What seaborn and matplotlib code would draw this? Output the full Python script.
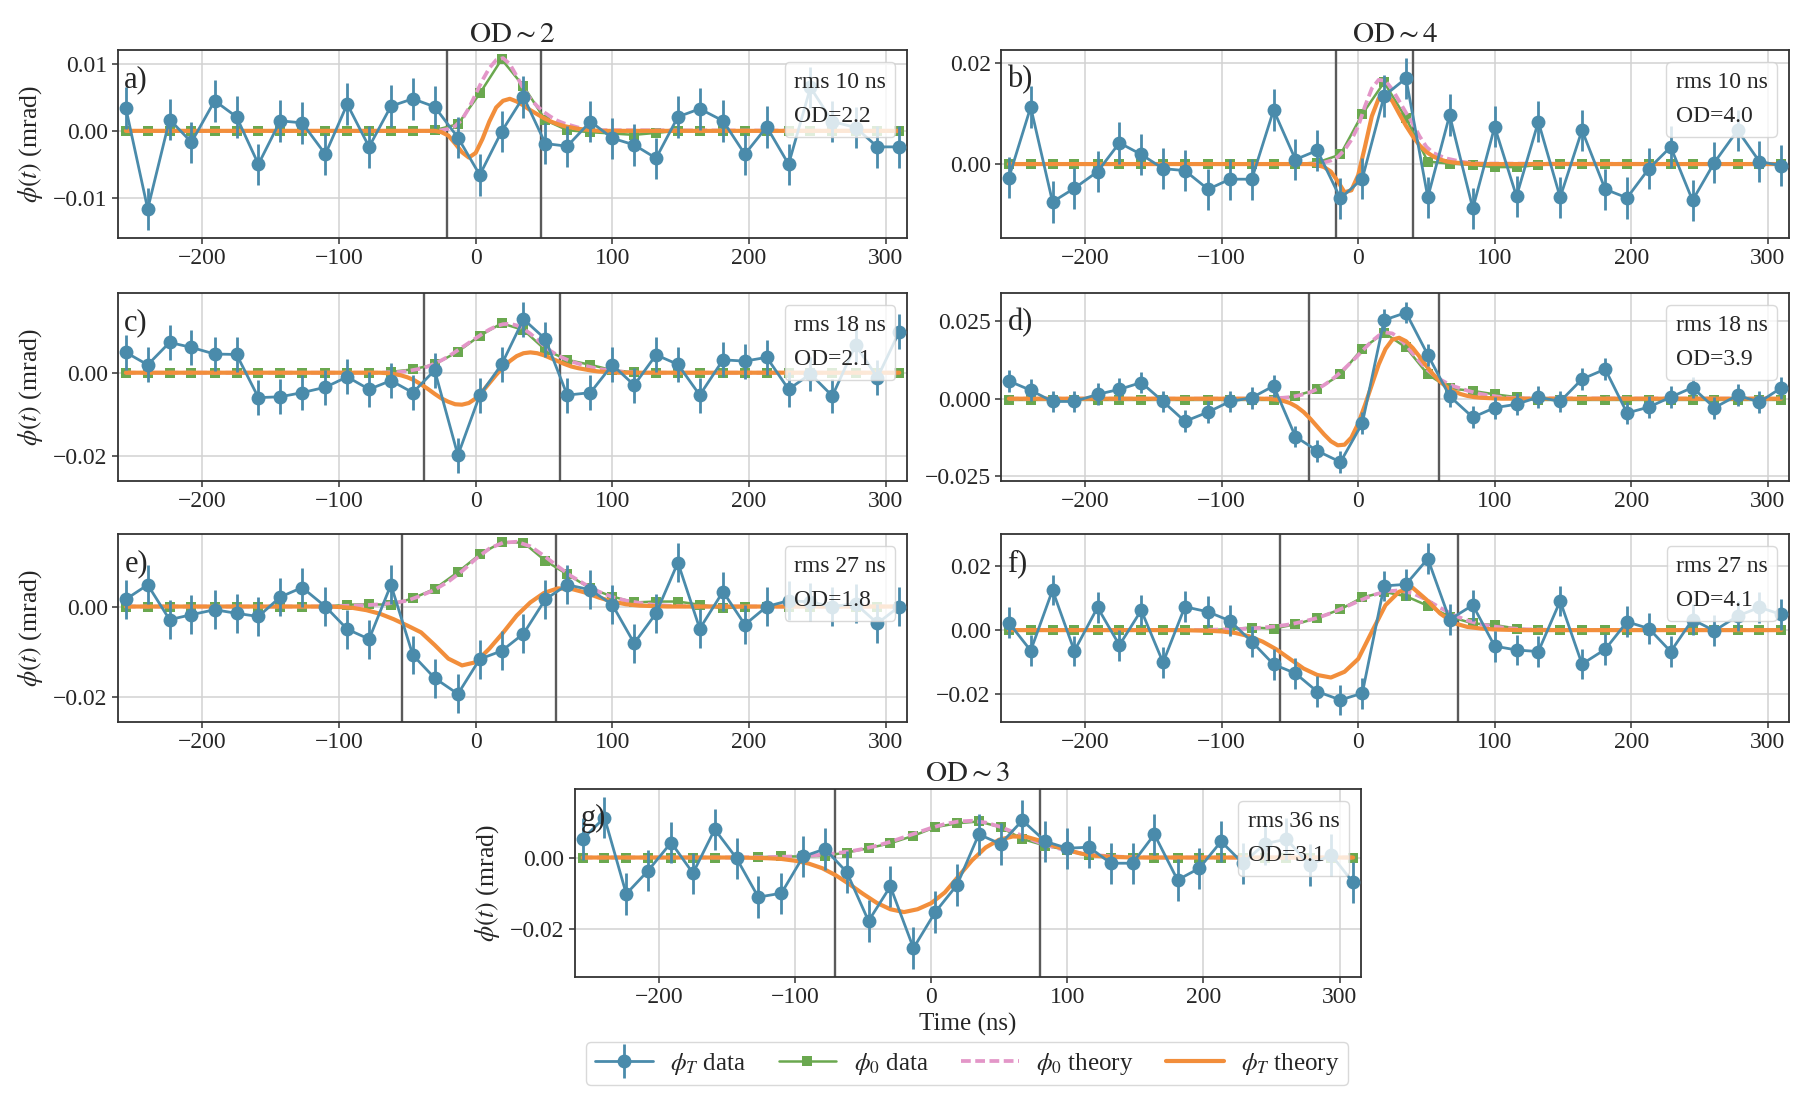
import matplotlib
matplotlib.use("Agg")
import matplotlib.pyplot as plt
from matplotlib.lines import Line2D
from matplotlib.legend_handler import HandlerTuple
from matplotlib.ticker import FuncFormatter
import seaborn as sns

sns.set_theme(style="ticks")
plt.rcParams["font.family"] = ["Liberation Serif", "DejaVu Serif"]
plt.rcParams["mathtext.fontset"] = "stix"
plt.rcParams["lines.dashed_pattern"] = [2.6, 1.2]

BLUE = "#4a8bab"
GREEN = "#6aa84f"
PINK = "#e396c8"
ORANGE = "#f28e3b"

# time grid of the measured points (ns)
t_ns = [-256, -240, -224, -208, -191, -175, -159, -143, -127, -110, -94, -78,
        -62, -46, -30, -13, 3, 19, 35, 51, 67, 84, 100, 116,
        132, 148, 164, 181, 197, 213, 229, 245, 261, 278, 294, 310]

# ---- a) OD~2, rms 10 ns
phiT_a = [0.0034, -0.0117, 0.0017, -0.0017, 0.0045, 0.0021, -0.0050, 0.0015, 0.0012, -0.0035, 0.0040, -0.0024,
          0.0037, 0.0048, 0.0036, -0.0010, -0.0066, -0.0001, 0.0051, -0.0019, -0.0023, 0.0014, -0.0011, -0.0021,
          -0.0041, 0.0021, 0.0033, 0.0015, -0.0035, 0.0006, -0.0050, 0.0065, 0.0014, 0.0005, -0.0024, -0.0024]
phi0_a = [0, 0, 0, 0, 0, 0, 0, 0, 0, 0, 0, 0,
          0, 0, 0.0001, 0.0010, 0.0056, 0.0107, 0.0067, 0.0016, 0.0001, -0.0002, -0.0004, -0.0006,
          -0.0003, 0, 0, 0, 0, 0, 0, 0, 0, 0, 0, 0]
err_a = 0.0031
win_a = [-21, 48]

# ---- b) OD~4, rms 10 ns
phiT_b = [-0.0027, 0.0113, -0.0075, -0.0048, -0.0015, 0.0042, 0.0019, -0.0009, -0.0013, -0.0050, -0.0030, -0.0030,
          0.0107, 0.0009, 0.0027, -0.0068, -0.0029, 0.0135, 0.0170, -0.0066, 0.0097, -0.0088, 0.0074, -0.0064,
          0.0084, -0.0066, 0.0067, -0.0050, -0.0067, -0.0009, 0.0034, -0.0072, 0.0003, 0.0067, 0.0005, -0.0003]
phi0_b = [0, 0, 0, 0, 0, 0, 0, 0, 0, 0, 0, 0,
          0, 0, 0.0003, 0.0019, 0.0099, 0.0162, 0.0091, 0.0005, 0.0001, -0.0002, -0.0006, -0.0006,
          -0.0002, 0, 0, 0, 0, 0, 0, 0, 0, 0, 0, 0]
err_b = 0.0041
win_b = [-16, 40]

# ---- c) OD~2, rms 18 ns
phiT_c = [0.0049, 0.0019, 0.0073, 0.0061, 0.0045, 0.0044, -0.0060, -0.0058, -0.0048, -0.0035, -0.0010, -0.0040,
          -0.0019, -0.0048, 0.0006, -0.0199, -0.0054, 0.0020, 0.0129, 0.0081, -0.0054, -0.0048, 0.0019, -0.0030,
          0.0043, 0.0020, -0.0054, 0.0031, 0.0028, 0.0037, -0.0040, -0.0003, -0.0056, 0.0067, -0.0012, 0.0099]
phi0_c = [0, 0, 0, 0, 0, 0, 0, 0, 0, 0, 0, 0,
          0.0002, 0.0008, 0.0020, 0.0051, 0.0089, 0.0119, 0.0103, 0.0055, 0.0031, 0.0019, 0.0006, 0.0001,
          0, 0, 0, 0, 0, 0, 0, 0, 0, 0, 0, 0]
err_c = 0.0042
win_c = [-38, 62]

# ---- d) OD~4, rms 18 ns
phiT_d = [0.0057, 0.0027, -0.0009, -0.0009, 0.0014, 0.0030, 0.0052, -0.0009, -0.0073, -0.0043, -0.0009, 0.0003,
          0.0041, -0.0122, -0.0168, -0.0204, -0.0079, 0.0253, 0.0277, 0.0141, 0.0008, -0.0060, -0.0029, -0.0018,
          0.0005, -0.0009, 0.0063, 0.0095, -0.0046, -0.0027, 0.0005, 0.0036, -0.0029, 0.0011, -0.0011, 0.0035]
phi0_d = [-0.0004, -0.0004, -0.0004, -0.0004, -0.0004, -0.0004, -0.0004, -0.0004, -0.0004, -0.0004, -0.0004, -0.0004,
          -0.0004, 0.0009, 0.0030, 0.0078, 0.0161, 0.0212, 0.0165, 0.0078, 0.0033, 0.0025, 0.0014, 0.0005,
          -0.0004, -0.0004, -0.0004, -0.0004, -0.0004, -0.0004, -0.0004, -0.0004, -0.0004, -0.0004, -0.0004, -0.0004]
err_d = 0.0035
win_d = [-36, 59]

# ---- e) OD~2, rms 27 ns
phiT_e = [0.0016, 0.0048, -0.0029, -0.0018, -0.0007, -0.0015, -0.0022, 0.0021, 0.0042, 0.0000, -0.0050, -0.0072,
          0.0048, -0.0107, -0.0158, -0.0193, -0.0116, -0.0098, -0.0060, 0.0016, 0.0048, 0.0037, 0.0004, -0.0081,
          -0.0015, 0.0097, -0.0049, 0.0033, -0.0040, 0.0000, 0.0013, 0.0010, 0.0000, 0.0006, -0.0037, 0.0000]
phi0_e = [0, 0, 0, 0, 0, 0, 0, 0, 0, 0, 0.0004, 0.0005,
          0.0004, 0.0018, 0.0039, 0.0076, 0.0115, 0.0142, 0.0141, 0.0101, 0.0071, 0.0040, 0.0022, 0.0009,
          0.0011, 0.0011, 0.0004, -0.0004, 0, 0, 0, 0, 0, 0, 0, 0]
err_e = 0.0043
win_e = [-54, 59]

# ---- f) OD~4, rms 27 ns
phiT_f = [0.0023, -0.0064, 0.0125, -0.0065, 0.0071, -0.0047, 0.0062, -0.0101, 0.0073, 0.0057, 0.0029, -0.0036,
          -0.0107, -0.0135, -0.0192, -0.0218, -0.0197, 0.0138, 0.0143, 0.0223, 0.0033, 0.0078, -0.0050, -0.0062,
          -0.0067, 0.0091, -0.0106, -0.0060, 0.0026, 0.0005, -0.0067, 0.0033, -0.0002, 0.0044, 0.0071, 0.0049]
phi0_f = [0, 0, 0, 0, 0, 0, 0, 0, 0, 0, 0.0003, 0.0008,
          0.0005, 0.0018, 0.0038, 0.0065, 0.0102, 0.0119, 0.0106, 0.0076, 0.0042, 0.0021, 0.0016, 0.0005,
          0, 0, 0, 0, 0, 0, 0, 0, 0, 0, 0, 0]
err_f = 0.0048
win_f = [-57, 73]

# ---- g) OD~3, rms 36 ns
phiT_g = [0.0052, 0.0112, -0.0102, -0.0037, 0.0042, -0.0044, 0.0079, -0.0002, -0.0111, -0.0100, 0.0003, 0.0024,
          -0.0041, -0.0178, -0.0081, -0.0254, -0.0153, -0.0077, 0.0065, 0.0038, 0.0104, 0.0045, 0.0026, 0.0029,
          -0.0016, -0.0016, 0.0065, -0.0063, -0.0030, 0.0045, -0.0016, 0.0038, 0.0052, -0.0021, 0.0007, -0.0070]
phi0_g = [0, 0, 0, 0, 0, 0, 0, 0, 0.0001, 0.0003, 0.0003, 0.0005,
          0.0014, 0.0026, 0.0040, 0.0061, 0.0085, 0.0096, 0.0101, 0.0085, 0.0052, 0.0033, 0.0021, 0.0007,
          0, 0, 0, 0, 0, 0, 0, 0, 0, 0, 0, 0]
err_g = 0.0058
win_g = [-71, 80]

# theory curves, sampled on finer grids (zero outside)
th_t_narrow = list(range(-35, 95, 5))
th_t_mid = list(range(-70, 125, 5))
th_t_wide = list(range(-140, 190, 10))

th0_a = [0, 0.0000, 0.0001, 0.0003, 0.0007, 0.0017, 0.0034, 0.0055, 0.0076, 0.0094, 0.0106, 0.0109, 0.0100,
         0.0082, 0.0063, 0.0048, 0.0037, 0.0028, 0.0021, 0.0015, 0.0011, 0.0008, 0.0005, 0.0003, 0.0002, 0.0001]
thT_a = [0, 0, -0.0002, -0.0007, -0.0019, -0.0032, -0.0040, -0.0033, -0.0012, 0.0014, 0.0035, 0.0045, 0.0048,
         0.0044, 0.0038, 0.0031, 0.0025, 0.0019, 0.0014, 0.0010, 0.0007, 0.0005, 0.0003, 0.0002, 0.0001, 0]
th0_b = [0, 0.0001, 0.0003, 0.0007, 0.0014, 0.0028, 0.0048, 0.0075, 0.0115, 0.0150, 0.0167, 0.0165, 0.0148,
         0.0125, 0.0102, 0.0080, 0.0055, 0.0034, 0.0022, 0.0016, 0.0011, 0.0008, 0.0005, 0.0003, 0.0002, 0.0001]
thT_b = [0, -0.0002, -0.0006, -0.0015, -0.0034, -0.0056, -0.0052, -0.0022, 0.0035, 0.0095, 0.0130, 0.0138, 0.0125,
         0.0100, 0.0076, 0.0055, 0.0037, 0.0024, 0.0015, 0.0009, 0.0005, 0.0003, 0.0002, 0.0001, 0, 0]
th0_c = [0, 0.0001, 0.0001, 0.0002, 0.0004, 0.0007, 0.0010, 0.0015, 0.0022, 0.0030, 0.0039, 0.0050, 0.0061,
         0.0072, 0.0083, 0.0094, 0.0104, 0.0112, 0.0117, 0.0118, 0.0114, 0.0106, 0.0094, 0.0080, 0.0065, 0.0052,
         0.0042, 0.0034, 0.0027, 0.0022, 0.0017, 0.0013, 0.0009, 0.0007, 0.0005, 0.0003, 0.0002, 0.0001, 0]
thT_c = [0, -0.0001, -0.0003, -0.0006, -0.0011, -0.0018, -0.0028, -0.0039, -0.0051, -0.0062, -0.0070, -0.0076,
         -0.0077, -0.0073, -0.0062, -0.0045, -0.0025, -0.0005, 0.0013, 0.0028, 0.0040, 0.0047, 0.0049, 0.0047,
         0.0042, 0.0035, 0.0028, 0.0021, 0.0015, 0.0011, 0.0008, 0.0005, 0.0003, 0.0002, 0.0001, 0, 0, 0, 0]
th0_d = [0, 0.0001, 0.0002, 0.0003, 0.0005, 0.0009, 0.0014, 0.0021, 0.0031, 0.0044, 0.0059, 0.0077, 0.0097,
         0.0118, 0.0140, 0.0163, 0.0185, 0.0203, 0.0213, 0.0210, 0.0195, 0.0172, 0.0145, 0.0120, 0.0095, 0.0077,
         0.0062, 0.0050, 0.0040, 0.0033, 0.0026, 0.0020, 0.0015, 0.0011, 0.0008, 0.0005, 0.0003, 0.0002, 0.0001]
thT_d = [0, -0.0001, -0.0003, -0.0007, -0.0014, -0.0026, -0.0043, -0.0065, -0.0090, -0.0115, -0.0137, -0.0150,
         -0.0148, -0.0125, -0.0080, -0.0020, 0.0045, 0.0110, 0.0160, 0.0190, 0.0196, 0.0185, 0.0163, 0.0135,
         0.0105, 0.0078, 0.0055, 0.0037, 0.0024, 0.0015, 0.0009, 0.0005, 0.0003, 0.0002, 0.0001, 0, 0, 0, 0]
th0_e = [0, 0, 0, 0, 0.0001, 0.0002, 0.0003, 0.0005, 0.0008, 0.0013, 0.0024, 0.0037, 0.0055, 0.0078, 0.0105,
         0.0128, 0.0141, 0.0143, 0.0133, 0.0112, 0.0089, 0.0067, 0.0049, 0.0033, 0.0021, 0.0013, 0.0008, 0.0004,
         0.0002, 0.0001, 0, 0, 0]
thT_e = [0, 0, 0, 0, -0.0001, -0.0003, -0.0008, -0.0016, -0.0028, -0.0042, -0.0057, -0.0085, -0.0115, -0.0130,
         -0.0123, -0.0093, -0.0058, -0.0020, 0.0009, 0.0030, 0.0040, 0.0039, 0.0031, 0.0020, 0.0011, 0.0005,
         0.0002, 0.0001, 0, 0, 0, 0, 0]
th0_f = [0, 0, 0, 0.0001, 0.0002, 0.0003, 0.0005, 0.0008, 0.0012, 0.0018, 0.0027, 0.0038, 0.0053, 0.0071, 0.0090,
         0.0108, 0.0121, 0.0124, 0.0115, 0.0095, 0.0070, 0.0047, 0.0030, 0.0018, 0.0011, 0.0006, 0.0003, 0.0002,
         0.0001, 0, 0, 0, 0]
thT_f = [0, 0, -0.0001, -0.0002, -0.0004, -0.0009, -0.0019, -0.0036, -0.0060, -0.0090, -0.0120, -0.0140, -0.0148,
         -0.0130, -0.0090, -0.0005, 0.0078, 0.0120, 0.0132, 0.0095, 0.0052, 0.0022, 0.0010, 0.0005, 0.0002, 0.0001,
         0, 0, 0, 0, 0, 0, 0]
th0_g = [0, 0.0001, 0.0001, 0.0002, 0.0003, 0.0005, 0.0008, 0.0012, 0.0017, 0.0024, 0.0033, 0.0044, 0.0057,
         0.0070, 0.0083, 0.0094, 0.0101, 0.0103, 0.0098, 0.0087, 0.0072, 0.0056, 0.0041, 0.0029, 0.0019, 0.0012,
         0.0007, 0.0004, 0.0002, 0.0001, 0, 0, 0]
thT_g = [0, -0.0001, -0.0002, -0.0004, -0.0009, -0.0017, -0.0030, -0.0050, -0.0075, -0.0102, -0.0127, -0.0145,
         -0.0153, -0.0145, -0.0128, -0.0098, -0.0053, -0.0008, 0.0028, 0.0050, 0.0059, 0.0058, 0.0047, 0.0033,
         0.0021, 0.0011, 0.0005, 0.0002, 0.0001, 0, 0, 0, 0]

panels = [
    dict(tag="a)", rms=10, od="2.2", T=phiT_a, P=phi0_a, err=err_a, win=win_a, tt=th_t_narrow, t0=th0_a, tT=thT_a,
         ylim=(-0.016, 0.0121), yt=[-0.01, 0.0, 0.01], fmt="%.2f", title=r"$\mathrm{OD}\sim2$", ylab=True,
         rect=[0.0653, 0.7839, 0.4364, 0.1706]),
    dict(tag="b)", rms=10, od="4.0", T=phiT_b, P=phi0_b, err=err_b, win=win_b, tt=th_t_narrow, t0=th0_b, tT=thT_b,
         ylim=(-0.0146, 0.0226), yt=[0.0, 0.02], fmt="%.2f", title=r"$\mathrm{OD}\sim4$", ylab=False,
         rect=[0.5537, 0.7839, 0.4358, 0.1706]),
    dict(tag="c)", rms=18, od="2.1", T=phiT_c, P=phi0_c, err=err_c, win=win_c, tt=th_t_mid, t0=th0_c, tT=thT_c,
         ylim=(-0.0261, 0.0192), yt=[-0.02, 0.0], fmt="%.2f", title=None, ylab=True,
         rect=[0.0653, 0.5627, 0.4364, 0.1709]),
    dict(tag="d)", rms=18, od="3.9", T=phiT_d, P=phi0_d, err=err_d, win=win_d, tt=th_t_mid, t0=th0_d, tT=thT_d,
         ylim=(-0.0265, 0.034), yt=[-0.025, 0.0, 0.025], fmt="%.3f", title=None, ylab=False,
         rect=[0.5537, 0.5627, 0.4358, 0.1709]),
    dict(tag="e)", rms=27, od="1.8", T=phiT_e, P=phi0_e, err=err_e, win=win_e, tt=th_t_wide, t0=th0_e, tT=thT_e,
         ylim=(-0.0255, 0.016), yt=[-0.02, 0.0], fmt="%.2f", title=None, ylab=True,
         rect=[0.0653, 0.3436, 0.4364, 0.1709]),
    dict(tag="f)", rms=27, od="4.1", T=phiT_f, P=phi0_f, err=err_f, win=win_f, tt=th_t_wide, t0=th0_f, tT=thT_f,
         ylim=(-0.0287, 0.030), yt=[-0.02, 0.0, 0.02], fmt="%.2f", title=None, ylab=False,
         rect=[0.5537, 0.3436, 0.4358, 0.1709]),
    dict(tag="g)", rms=36, od="3.1", T=phiT_g, P=phi0_g, err=err_g, win=win_g, tt=th_t_wide, t0=th0_g, tT=thT_g,
         ylim=(-0.0335, 0.0192), yt=[-0.02, 0.0], fmt="%.2f", title=r"$\mathrm{OD}\sim3$", ylab=True,
         rect=[0.3180, 0.1118, 0.4347, 0.1709]),
]

fig = plt.figure(figsize=(18.08, 11), dpi=100)

for p in panels:
    ax = fig.add_axes(p["rect"])
    ax.set_axisbelow(True)
    ax.grid(True, color="#d2d2d2", lw=1.1)

    for xv in p["win"]:
        ax.axvline(xv, color="#5a5a5a", lw=1.7, zorder=2.5)

    ax.errorbar(t_ns, p["T"], yerr=p["err"], fmt="none", ecolor=BLUE, elinewidth=2.0,
                capsize=0, zorder=6)
    sns.lineplot(x=t_ns, y=p["T"], ax=ax, color=BLUE, lw=2.0, marker="o", markersize=10,
                 markeredgewidth=0, estimator=None, sort=False, zorder=6)
    sns.lineplot(x=t_ns, y=p["P"], ax=ax, color=GREEN, lw=1.8, marker="s", markersize=7.5,
                 markeredgewidth=0, estimator=None, sort=False, zorder=3)

    tx = [t_ns[0]] + p["tt"] + [t_ns[-1]]
    sns.lineplot(x=tx, y=[0] + p["t0"] + [0], ax=ax, color=PINK, lw=2.7, linestyle="--",
                 estimator=None, sort=False, zorder=4)
    sns.lineplot(x=tx, y=[0] + p["tT"] + [0], ax=ax, color=ORANGE, lw=3.0,
                 estimator=None, sort=False, zorder=5)

    ax.set_xlim(-261.7, 315.7)
    ax.set_ylim(*p["ylim"])
    ax.set_xticks([-200, -100, 0, 100, 200, 300])
    ax.set_yticks(p["yt"])
    fmt = p["fmt"]
    ax.yaxis.set_major_formatter(FuncFormatter(lambda v, pos, f=fmt: (f % v).replace("-", "\u2212")))
    ax.xaxis.set_major_formatter(FuncFormatter(lambda v, pos: ("%d" % v).replace("-", "\u2212")))
    ax.tick_params(labelsize=17, length=4, width=1.1, color="#333333")
    for s in ax.spines.values():
        s.set_color("#333333")
        s.set_linewidth(1.3)

    if p["ylab"]:
        ax.set_ylabel(r"$\phi(t)$ (mrad)", fontsize=18.5, labelpad=6)
    ax.set_xlabel("")
    if p["title"]:
        ax.set_title(p["title"], fontsize=21, pad=6)

    ax.text(0.008, 0.92, p["tag"], transform=ax.transAxes, fontsize=22, ha="left", va="top", zorder=8)

    info = [Line2D([], [], ls="none"), Line2D([], [], ls="none")]
    leg = ax.legend(info, ["rms %d ns" % p["rms"], "OD=%s" % p["od"]], loc="upper right",
                    handlelength=0, handletextpad=0, fontsize=17, framealpha=0.8,
                    borderaxespad=0.5, labelspacing=0.55, fancybox=True)
    leg.get_frame().set_edgecolor("#d0d0d0")
    leg.set_zorder(10)

    if p["tag"] == "g)":
        ax.set_xlabel("Time (ns)", fontsize=18, labelpad=3)

# shared legend at the bottom
h_T = (Line2D([], [], color=BLUE, lw=2.0, marker="o", markersize=10, markeredgewidth=0),
       Line2D([], [], color=BLUE, ls="none", marker="|", markersize=24, markeredgewidth=2.0))
h_0 = Line2D([], [], color=GREEN, lw=1.8, marker="s", markersize=7.5, markeredgewidth=0)
h_0t = Line2D([], [], color=PINK, lw=2.7, ls="--")
h_Tt = Line2D([], [], color=ORANGE, lw=3.0)
fleg = fig.legend([h_T, h_0, h_0t, h_Tt],
                  [r"$\phi_T$ data", r"$\phi_0$ data", r"$\phi_0$ theory", r"$\phi_T$ theory"],
                  handler_map={tuple: HandlerTuple(ndivide=1)},
                  loc="lower center", bbox_to_anchor=(0.535, 0.002), ncol=4, fontsize=18,
                  handlelength=2.3, handletextpad=0.7, columnspacing=1.3, framealpha=0.8,
                  fancybox=True, borderpad=0.35)
fleg.get_frame().set_edgecolor("#d0d0d0")

fig.savefig("out.png", dpi=100)
